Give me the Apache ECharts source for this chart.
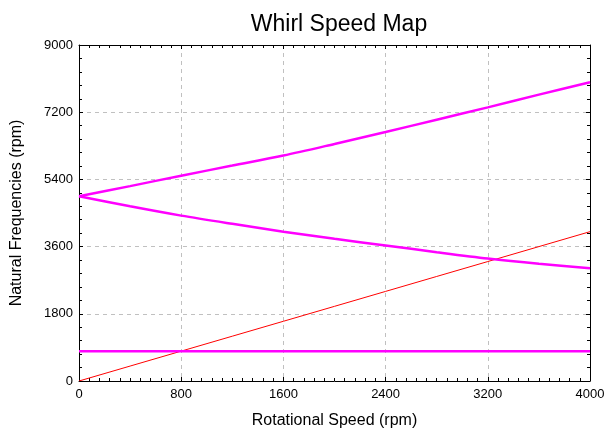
<!DOCTYPE html>
<html><head><meta charset="utf-8">
<script src="https://cdn.jsdelivr.net/npm/echarts@6/dist/echarts.min.js"></script>
<style>html,body{margin:0;padding:0;background:#fff}#c{width:607px;height:432px}</style>
</head><body><div id="c"></div>
<script>
const speeds = [0, 400, 800, 1200, 1600, 2000, 2400, 2800, 3200, 3600, 4000];
const forwardWhirl = [4950, 5220, 5500, 5770, 6040, 6350, 6670, 7000, 7330, 7670, 8000];
const backwardWhirl = [4950, 4680, 4430, 4210, 4000, 3810, 3630, 3450, 3280, 3140, 3020];
const axialMode = [800, 800, 800, 800, 800, 800, 800, 800, 800, 800, 800];
const syncLine = [0, 400, 800, 1200, 1600, 2000, 2400, 2800, 3200, 3600, 4000];

const font = 'Liberation Sans, Arial, sans-serif';
const pairs = arr => speeds.map((s, i) => [s, arr[i]]);
const chart = echarts.init(document.getElementById('c'), null, {renderer: 'canvas'});
const baseAxis = {
  axisLine: {show: true, onZero: false, lineStyle: {color: '#000', width: 1}},
  axisTick: {show: true, inside: true, length: 4, lineStyle: {color: '#000'}},
};
const plain = v => String(v);
chart.setOption({
  animation: false,
  title: {text: 'Whirl Speed Map', left: 334, textAlign: 'center', top: 8,
    textStyle: {fontFamily: font, fontSize: 23, fontWeight: 'normal', color: '#000'}},
  grid: {left: 79, right: 17, top: 45, bottom: 51, containLabel: false, outerBoundsMode: 'none'},
  xAxis: [
    Object.assign({}, baseAxis, {type: 'value', min: 0, max: 4000, interval: 800, position: 'bottom',
      name: 'Rotational Speed (rpm)', nameLocation: 'middle', nameGap: 32,
      nameTextStyle: {fontFamily: font, fontSize: 16, color: '#000'},
      minorTick: {show: true, splitNumber: 10, length: 3, lineStyle: {color: '#000'}},
      axisLabel: {fontFamily: font, fontSize: 13, color: '#000', margin: 7, formatter: plain},
      splitLine: {show: true, lineStyle: {color: '#c0c0c0', type: [4, 4]}}}),
    Object.assign({}, baseAxis, {type: 'value', min: 0, max: 4000, interval: 800, position: 'top',
      minorTick: {show: true, splitNumber: 10, length: 3, lineStyle: {color: '#000'}},
      axisLabel: {show: false}, splitLine: {show: false}})
  ],
  yAxis: [
    Object.assign({}, baseAxis, {type: 'value', min: 0, max: 9000, interval: 1800, position: 'left',
      name: 'Natural Frequencies (rpm)', nameLocation: 'middle', nameGap: 54,
      nameTextStyle: {fontFamily: font, fontSize: 16, color: '#000'},
      minorTick: {show: true, splitNumber: 5, length: 3, lineStyle: {color: '#000'}},
      axisLabel: {fontFamily: font, fontSize: 13, color: '#000', margin: 6, formatter: plain},
      splitLine: {show: true, lineStyle: {color: '#c0c0c0', type: [4, 4]}}}),
    Object.assign({}, baseAxis, {type: 'value', min: 0, max: 9000, interval: 1800, position: 'right',
      minorTick: {show: true, splitNumber: 5, length: 3, lineStyle: {color: '#000'}},
      axisLabel: {show: false}, splitLine: {show: false}})
  ],
  series: [
    {type: 'line', data: pairs(syncLine), showSymbol: false, lineStyle: {color: '#ff0000', width: 1}, z: 3},
    {type: 'line', data: pairs(axialMode), showSymbol: false, lineStyle: {color: '#ff00ff', width: 2.5}},
    {type: 'line', data: pairs(forwardWhirl), showSymbol: false, smooth: 0.3, lineStyle: {color: '#ff00ff', width: 2.5}},
    {type: 'line', data: pairs(backwardWhirl), showSymbol: false, smooth: 0.3, lineStyle: {color: '#ff00ff', width: 2.5}}
  ]
});
</script></body></html>
